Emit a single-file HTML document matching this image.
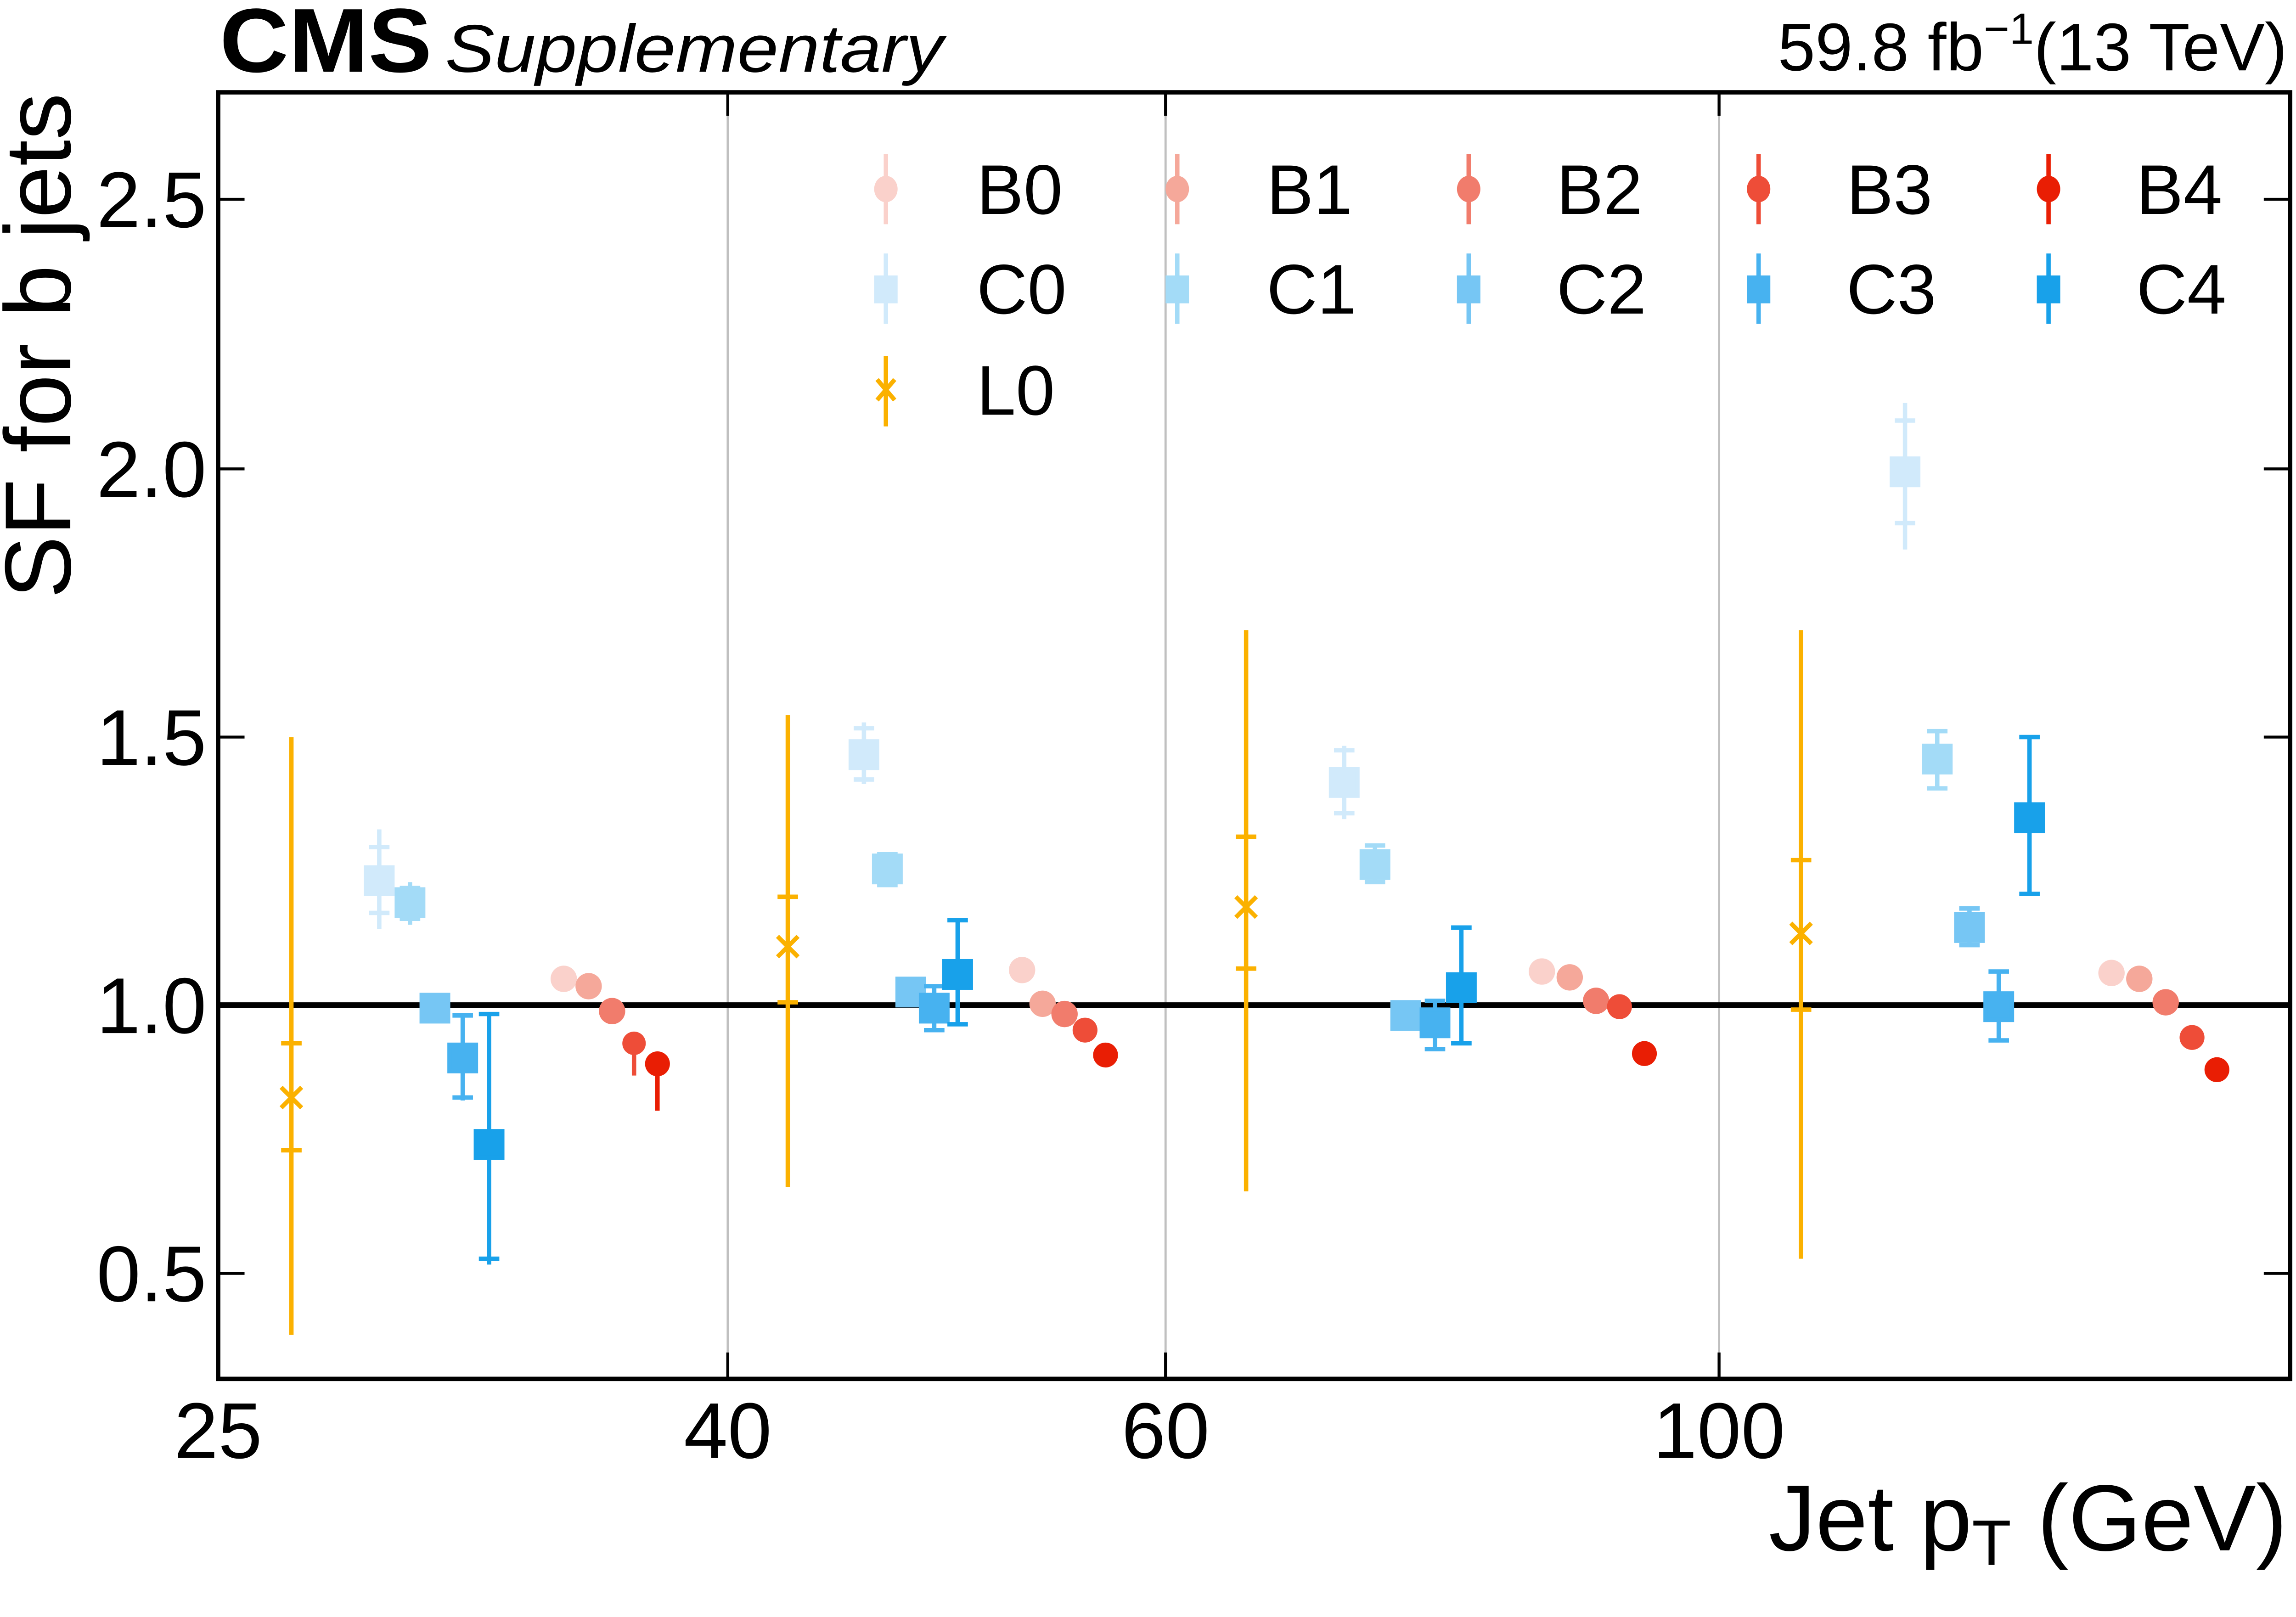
<!DOCTYPE html>
<html><head><meta charset="utf-8"><style>html,body{margin:0;padding:0;background:#fff;overflow:hidden;width:100vw;height:100vh}svg{display:block;width:100vw;height:100vh}</style></head>
<body>
<svg viewBox="0 0 1568 1103.5" preserveAspectRatio="none" xmlns="http://www.w3.org/2000/svg" font-family="Liberation Sans, sans-serif">
<rect width="1568" height="1110" fill="#fff"/>
<g stroke="#c0c0c0" stroke-width="1.5"><line x1="497" y1="63" x2="497" y2="941"/><line x1="796" y1="63" x2="796" y2="941"/><line x1="1174" y1="63" x2="1174" y2="941"/></g>
<g stroke="#000" stroke-width="2">
<line x1="149" y1="136" x2="167" y2="136"/><line x1="149" y1="320" x2="167" y2="320"/><line x1="149" y1="503" x2="167" y2="503"/><line x1="149" y1="869" x2="167" y2="869"/>
<line x1="1546" y1="136" x2="1564" y2="136"/><line x1="1546" y1="320" x2="1564" y2="320"/><line x1="1546" y1="503" x2="1564" y2="503"/><line x1="1546" y1="869" x2="1564" y2="869"/>
<line x1="497" y1="941" x2="497" y2="923"/><line x1="796" y1="941" x2="796" y2="923"/><line x1="1174" y1="941" x2="1174" y2="923"/>
<line x1="497" y1="63" x2="497" y2="79"/><line x1="796" y1="63" x2="796" y2="79"/><line x1="1174" y1="63" x2="1174" y2="79"/>
</g>
<line x1="149" y1="686" x2="1564" y2="686" stroke="#000" stroke-width="4"/>
<g stroke="#fbb100" stroke-width="3" fill="none">
<line x1="199" y1="503" x2="199" y2="911"/><line x1="192" y1="712" x2="206" y2="712"/><line x1="192" y1="785" x2="206" y2="785"/><path d="M192 742 L206 756 M206 742 L192 756"/>
<line x1="538" y1="488" x2="538" y2="810"/><line x1="531" y1="612" x2="545" y2="612"/><line x1="531" y1="684" x2="545" y2="684"/><path d="M531 639 L545 653 M545 639 L531 653"/>
<line x1="851" y1="430" x2="851" y2="813"/><line x1="844" y1="571" x2="858" y2="571"/><line x1="844" y1="661" x2="858" y2="661"/><path d="M844 612 L858 626 M858 612 L844 626"/>
<line x1="1230" y1="430" x2="1230" y2="859"/><line x1="1223" y1="587" x2="1237" y2="587"/><line x1="1223" y1="689" x2="1237" y2="689"/><path d="M1223 630 L1237 644 M1237 630 L1223 644"/>
</g>
<g stroke-width="3">
<g stroke="#d1eafb" fill="#d1eafb">
<line x1="259" y1="566" x2="259" y2="634"/><line x1="252" y1="578" x2="266" y2="578"/><line x1="252" y1="623" x2="266" y2="623"/><rect x="250" y="592" width="18" height="18"/>
<line x1="590" y1="493" x2="590" y2="535"/><line x1="583" y1="497" x2="597" y2="497"/><line x1="583" y1="532" x2="597" y2="532"/><rect x="581" y="506" width="18" height="18"/>
<line x1="918" y1="509" x2="918" y2="559"/><line x1="911" y1="512" x2="925" y2="512"/><line x1="911" y1="555" x2="925" y2="555"/><rect x="909" y="525" width="18" height="18"/>
<line x1="1301" y1="275" x2="1301" y2="375"/><line x1="1294" y1="287" x2="1308" y2="287"/><line x1="1294" y1="357" x2="1308" y2="357"/><rect x="1292" y="313" width="18" height="18"/>
</g>
<g stroke="#a3dbf7" fill="#a3dbf7">
<line x1="280" y1="602" x2="280" y2="631"/><line x1="273" y1="606" x2="287" y2="606"/><line x1="273" y1="627" x2="287" y2="627"/><rect x="271" y="607" width="18" height="18"/>
<line x1="606" y1="582" x2="606" y2="605"/><line x1="599" y1="583" x2="613" y2="583"/><line x1="599" y1="604" x2="613" y2="604"/><rect x="597" y="584" width="18" height="18"/>
<line x1="939" y1="576" x2="939" y2="603"/><line x1="932" y1="577" x2="946" y2="577"/><line x1="932" y1="602" x2="946" y2="602"/><rect x="930" y="581" width="18" height="18"/>
<line x1="1323" y1="498" x2="1323" y2="539"/><line x1="1316" y1="499" x2="1330" y2="499"/><line x1="1316" y1="538" x2="1330" y2="538"/><rect x="1314" y="509" width="18" height="18"/>
</g>
<g stroke="#76c6f4" fill="#76c6f4">
<rect x="288" y="679" width="18" height="18"/><rect x="613" y="668" width="18" height="18"/><rect x="951" y="684" width="18" height="18"/>
<line x1="1345" y1="619" x2="1345" y2="646"/><line x1="1338" y1="620" x2="1352" y2="620"/><line x1="1338" y1="645" x2="1352" y2="645"/><rect x="1336" y="624" width="18" height="18"/>
</g>
<g stroke="#47b2f0" fill="#47b2f0">
<line x1="316" y1="693" x2="316" y2="751"/><line x1="309" y1="693" x2="323" y2="693"/><line x1="309" y1="749" x2="323" y2="749"/><rect x="307" y="713" width="18" height="18"/>
<line x1="638" y1="673" x2="638" y2="704"/><line x1="631" y1="673" x2="645" y2="673"/><line x1="631" y1="703" x2="645" y2="703"/><rect x="629" y="679" width="18" height="18"/>
<line x1="980" y1="683" x2="980" y2="717"/><line x1="973" y1="683" x2="987" y2="683"/><line x1="973" y1="716" x2="987" y2="716"/><rect x="971" y="689" width="18" height="18"/>
<line x1="1365" y1="663" x2="1365" y2="711"/><line x1="1358" y1="663" x2="1372" y2="663"/><line x1="1358" y1="710" x2="1372" y2="710"/><rect x="1356" y="678" width="18" height="18"/>
</g>
<g stroke="#18a1ea" fill="#18a1ea">
<line x1="334" y1="692" x2="334" y2="863"/><line x1="327" y1="692" x2="341" y2="692"/><line x1="327" y1="859" x2="341" y2="859"/><rect x="325" y="772" width="18" height="18"/>
<line x1="654" y1="628" x2="654" y2="700"/><line x1="647" y1="628" x2="661" y2="628"/><line x1="647" y1="699" x2="661" y2="699"/><rect x="645" y="656" width="18" height="18"/>
<line x1="998" y1="633" x2="998" y2="713"/><line x1="991" y1="633" x2="1005" y2="633"/><line x1="991" y1="712" x2="1005" y2="712"/><rect x="989" y="665" width="18" height="18"/>
<line x1="1386" y1="503" x2="1386" y2="611"/><line x1="1379" y1="503" x2="1393" y2="503"/><line x1="1379" y1="610" x2="1393" y2="610"/><rect x="1377" y="549" width="18" height="18"/>
</g>
</g>
<g>
<g fill="#fad1cb"><circle cx="385" cy="668" r="9"/><circle cx="698" cy="662" r="9"/><circle cx="1053" cy="663" r="9"/><circle cx="1442" cy="664" r="9"/></g>
<g fill="#f5a89a"><circle cx="402" cy="673" r="9"/><circle cx="712" cy="685" r="9"/><circle cx="1072" cy="667" r="9"/><circle cx="1461" cy="668" r="9"/></g>
<g fill="#f17c6c"><circle cx="418" cy="690" r="9"/><circle cx="727" cy="692" r="9"/><circle cx="1090" cy="683" r="9"/><circle cx="1479" cy="684" r="9"/></g>
<g fill="#ee4d38" stroke="#ee4d38" stroke-width="3"><line x1="433" y1="706" x2="433" y2="734"/><circle cx="433" cy="712" r="8" stroke="none"/><circle cx="741" cy="703" r="8.5" stroke="none"/><circle cx="1106" cy="687" r="8.5" stroke="none"/><circle cx="1497" cy="708" r="8.5" stroke="none"/></g>
<g fill="#e91e04" stroke="#e91e04" stroke-width="3"><line x1="449" y1="718" x2="449" y2="758"/><circle cx="449" cy="726" r="8.5" stroke="none"/><circle cx="755" cy="720" r="8.5" stroke="none"/><circle cx="1123" cy="719" r="8.5" stroke="none"/><circle cx="1514" cy="730" r="8.5" stroke="none"/></g>
</g>
<g stroke-width="3">
<g stroke="#fad1cb" fill="#fad1cb"><line x1="605" y1="105" x2="605" y2="153"/><ellipse cx="605" cy="129" rx="8" ry="9" stroke="none"/></g>
<g stroke="#f5a89a" fill="#f5a89a"><line x1="804" y1="105" x2="804" y2="153"/><ellipse cx="804" cy="129" rx="8" ry="9" stroke="none"/></g>
<g stroke="#f17c6c" fill="#f17c6c"><line x1="1003" y1="105" x2="1003" y2="153"/><ellipse cx="1003" cy="129" rx="8" ry="9" stroke="none"/></g>
<g stroke="#ee4d38" fill="#ee4d38"><line x1="1201" y1="105" x2="1201" y2="153"/><ellipse cx="1201" cy="129" rx="8" ry="9" stroke="none"/></g>
<g stroke="#e91e04" fill="#e91e04"><line x1="1399" y1="105" x2="1399" y2="153"/><ellipse cx="1399" cy="129" rx="8" ry="9" stroke="none"/></g>
<g stroke="#d1eafb" fill="#d1eafb"><line x1="605" y1="173" x2="605" y2="221"/><rect x="597" y="188" width="16" height="19" stroke="none"/></g>
<g stroke="#a3dbf7" fill="#a3dbf7"><line x1="804" y1="173" x2="804" y2="221"/><rect x="796" y="188" width="16" height="19" stroke="none"/></g>
<g stroke="#76c6f4" fill="#76c6f4"><line x1="1003" y1="173" x2="1003" y2="221"/><rect x="995" y="188" width="16" height="19" stroke="none"/></g>
<g stroke="#47b2f0" fill="#47b2f0"><line x1="1201" y1="173" x2="1201" y2="221"/><rect x="1193" y="188" width="16" height="19" stroke="none"/></g>
<g stroke="#18a1ea" fill="#18a1ea"><line x1="1399" y1="173" x2="1399" y2="221"/><rect x="1391" y="188" width="16" height="19" stroke="none"/></g>
<g stroke="#fbb100" fill="none"><line x1="605" y1="243" x2="605" y2="291"/><path d="M599 259 L611 273 M611 259 L599 273"/></g>
</g>
<g font-size="48" fill="#000">
<text x="667" y="146">B0</text><text x="865" y="146">B1</text><text x="1063" y="146">B2</text><text x="1261" y="146">B3</text><text x="1459" y="146">B4</text>
<text x="667" y="214">C0</text><text x="865" y="214">C1</text><text x="1063" y="214">C2</text><text x="1261" y="214">C3</text><text x="1459" y="214">C4</text>
<text x="667" y="283">L0</text>
</g>
<rect x="149" y="63" width="1415" height="878" fill="none" stroke="#000" stroke-width="3"/>
<g font-size="54" fill="#000" text-anchor="end">
<text x="141" y="155">2.5</text><text x="141" y="339">2.0</text><text x="141" y="522">1.5</text><text x="141" y="705">1.0</text><text x="141" y="888">0.5</text>
</g>
<g font-size="54" fill="#000" text-anchor="middle">
<text x="149" y="995">25</text><text x="497" y="995">40</text><text x="796" y="995">60</text><text x="1174" y="995">100</text>
</g>
<text x="1562" y="1058" font-size="64" text-anchor="end">Jet p<tspan font-size="44" dy="10">T</tspan><tspan dy="-10"> (GeV)</tspan></text>
<text transform="translate(48,236) rotate(-90)" font-size="64" text-anchor="middle">SF for b jets</text>
<text x="150" y="49" font-size="62" font-weight="bold" textLength="145" lengthAdjust="spacingAndGlyphs">CMS</text>
<text x="304" y="49" font-size="46" font-style="italic" textLength="340" lengthAdjust="spacingAndGlyphs">Supplementary</text>
<text x="1562" y="48" font-size="46" text-anchor="end">59.8 fb<tspan font-size="30" dy="-18">−1</tspan><tspan dy="18">(13 TeV)</tspan></text>
</svg>
</body></html>
